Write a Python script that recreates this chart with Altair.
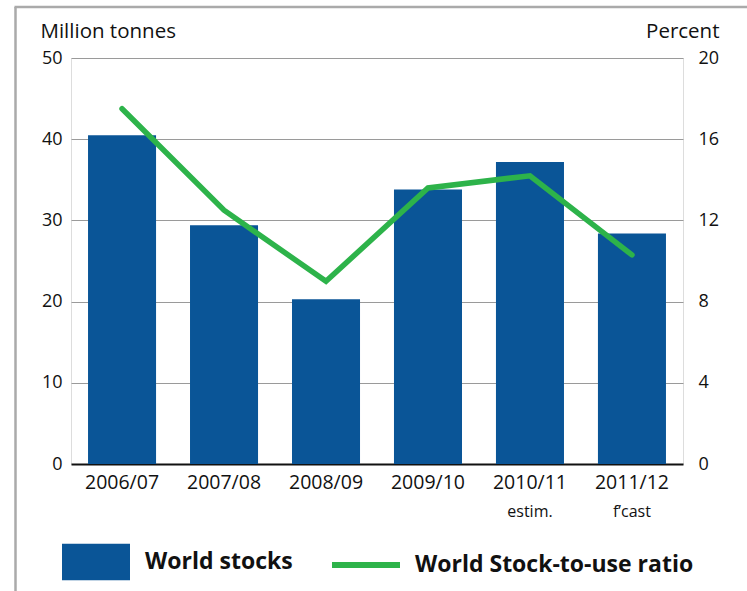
import altair as alt
import pandas as pd

years = ["2006/07", "2007/08", "2008/09", "2009/10", "2010/11", "2011/12"]
notes = ["", "", "", "", "estim.", "f\u2019cast"]
stocks = [40.5, 29.4, 20.3, 33.8, 37.2, 28.4]
ratio = [17.5, 12.5, 9.0, 13.6, 14.2, 10.3]

BLUE = "#0a5597"
GREEN = "#2db34a"
FONT = "Open Sans"
INK = "#111111"
W, H = 612, 406

df = pd.DataFrame({"year": years, "stocks": stocks, "ratio": ratio, "note": notes,
                   "s1": "World stocks", "s2": "World Stock-to-use ratio"})

xscale = alt.Scale(paddingInner=0.333, paddingOuter=0.167)
xaxis = alt.Axis(domain=False, ticks=False, labelPadding=9, labelFontSize=19.5,
                 labelFont=FONT, labelColor=INK, labelAngle=0)


def xenc():
    return alt.X("year:N", sort=years, title=None, scale=xscale, axis=xaxis)


yscale_l = alt.Scale(domain=[0, 50], nice=False)

bars = alt.Chart(df).mark_bar(color=BLUE).encode(
    x=xenc(),
    y=alt.Y("stocks:Q", scale=yscale_l,
            axis=alt.Axis(values=[0, 10, 20, 30, 40, 50], grid=True,
                          gridColor={"condition": {"test": "datum.value === 0", "value": INK},
                                     "value": "#9a9a9a"},
                          gridWidth={"condition": {"test": "datum.value === 0", "value": 2.2},
                                     "value": 1},
                          domain=False, ticks=False, labelPadding=9,
                          labelFontSize=18, labelFont=FONT, labelColor=INK,
                          title="Million tonnes", titleAngle=0, titleAlign="left",
                          titleBaseline="alphabetic", titleX=-31, titleY=-21,
                          titleFont=FONT, titleFontSize=20.5, titleFontWeight="normal",
                          titleColor=INK)),
    fill=alt.Fill("s1:N", scale=alt.Scale(domain=["World stocks"], range=[BLUE]),
                  legend=alt.Legend(title=None, orient="none", legendX=-9, legendY=470,
                                    symbolType="M-1,-0.54H1V0.54H-1Z", symbolSize=4624,
                                    symbolStrokeWidth=0, symbolOpacity=1,
                                    labelFont=FONT, labelFontSize=23, labelFontWeight="bold",
                                    labelColor=INK, labelOffset=15, labelLimit=500)),
)

note_text = alt.Chart(df).mark_text(font=FONT, fontSize=16, color=INK, baseline="top").encode(
    x=xenc(),
    y=alt.value(H + 40),
    text="note:N",
)

line = alt.Chart(df).mark_line(strokeWidth=5.5, strokeCap="round").encode(
    x=xenc(),
    y=alt.Y("ratio:Q", scale=alt.Scale(domain=[0, 20], nice=False),
            axis=alt.Axis(orient="right", values=[0, 4, 8, 12, 16, 20], grid=False,
                          domain=False, ticks=False, labelPadding=15, labelFontSize=18,
                          labelFont=FONT, labelColor=INK,
                          title="Percent", titleAngle=0, titleAlign="right",
                          titleBaseline="alphabetic", titleX=36, titleY=-21,
                          titleFont=FONT, titleFontSize=20.5, titleFontWeight="normal",
                          titleColor=INK)),
    stroke=alt.Stroke("s2:N", scale=alt.Scale(domain=["World Stock-to-use ratio"], range=[GREEN]),
                      legend=alt.Legend(title=None, orient="none", legendX=258, legendY=470,
                                        symbolType="stroke", symbolSize=4624,
                                        symbolStrokeWidth=6, labelFont=FONT, labelFontSize=23,
                                        labelFontWeight="bold", labelColor=INK,
                                        labelOffset=12, labelLimit=500)),
)

frame_df = pd.DataFrame({"a": [0]})
frame_left = alt.Chart(frame_df).mark_rule(color="#aaaaaa", strokeWidth=2.5).encode(
    x=alt.value(-55.5), y=alt.value(-51), y2=alt.value(540))
frame_top = alt.Chart(frame_df).mark_rule(color="#aaaaaa", strokeWidth=2.5).encode(
    x=alt.value(-56.5), x2=alt.value(700), y=alt.value(-51))

chart = alt.layer(frame_left, frame_top, bars, note_text, line).resolve_scale(
    y="independent", fill="independent", stroke="independent"
).properties(
    width=W, height=H,
    autosize=alt.AutoSizeParams(type="none"),
    padding={"left": 71, "top": 58, "right": 64, "bottom": 127},
).configure_view(stroke=None).configure(background="white")

chart.save("out.html", embed_options={"renderer": "svg", "actions": False})
